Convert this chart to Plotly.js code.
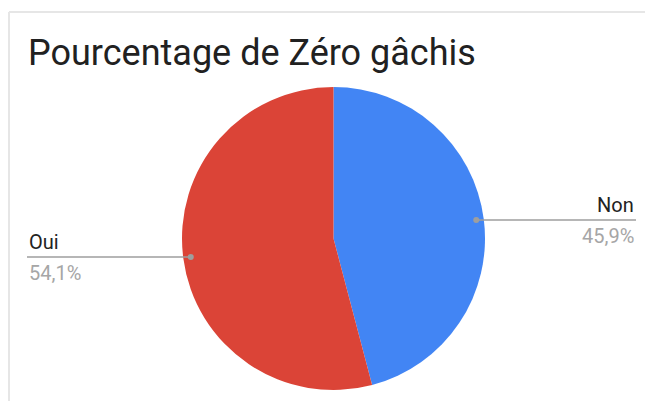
<!DOCTYPE html>
<html><head><meta charset="utf-8">
<script src="https://cdn.plot.ly/plotly-3.0.1.min.js"></script>
<style>html,body{margin:0;padding:0;background:#fff}#chart{width:645px;height:401px}</style>
</head><body><div id="chart"></div>
<script>
const labels = ['Non', 'Oui'];
const values = [45.9, 54.1];
const colors = ['#4285f4', '#db4437'];
const titleText = 'Pourcentage de Zéro gâchis';

const W = 645, H = 401;
const dom = {x: [182 / W, 485 / W], y: [11 / H, 314 / H]};
const cx = (dom.x[0] + dom.x[1]) / 2 * W;
const cy = (dom.y[0] + dom.y[1]) / 2 * H;
const r = Math.min((dom.x[1] - dom.x[0]) * W, (dom.y[1] - dom.y[0]) * H) / 2;
const total = values.reduce((a, b) => a + b, 0);

const shapes = [
  {type: 'line', xref: 'paper', yref: 'paper', x0: 9 / W, x1: 9 / W, y0: 0, y1: 389 / H, line: {color: '#e6e6e6', width: 2}},
  {type: 'line', xref: 'paper', yref: 'paper', x0: 9 / W, x1: 1, y0: 389 / H, y1: 389 / H, line: {color: '#e6e6e6', width: 2}}
];
const annotations = [];
let cum = 0;
values.forEach((v, i) => {
  const mid = (cum + v / 2) / total;
  cum += v;
  const th = 2 * Math.PI * mid;
  const px = cx + 0.95 * r * Math.sin(th);
  const py = cy + 0.95 * r * Math.cos(th);
  const right = Math.sin(th) > 0;
  const endX = right ? 636 : 27;
  shapes.push({type: 'line', xref: 'paper', yref: 'paper', x0: px / W, x1: endX / W, y0: py / H, y1: py / H, line: {color: '#9e9e9e', width: 1.5}});
  shapes.push({type: 'circle', xref: 'paper', yref: 'paper', x0: (px - 3) / W, x1: (px + 3) / W, y0: (py - 3) / H, y1: (py + 3) / H, line: {width: 0}, fillcolor: '#9e9e9e'});
  const pct = (v / total * 100).toFixed(1).replace('.', ',') + '%';
  annotations.push({xref: 'paper', yref: 'paper', x: endX / W, y: (py + 1) / H, xanchor: right ? 'right' : 'left', yanchor: 'bottom', text: labels[i], showarrow: false, font: {family: 'Roboto', size: 20, color: '#222222'}});
  annotations.push({xref: 'paper', yref: 'paper', x: endX / W, y: (py - 2) / H, xanchor: right ? 'right' : 'left', yanchor: 'top', text: pct, showarrow: false, font: {family: 'Roboto', size: 20, color: '#a6a6a6'}});
});

const data = [{
  type: 'pie', labels: labels, values: values, sort: false, direction: 'clockwise', rotation: 0,
  marker: {colors: colors, line: {width: 0}}, textinfo: 'none', hoverinfo: 'none', domain: dom
}];
const layout = {
  width: W, height: H, margin: {l: 0, r: 0, t: 0, b: 0}, showlegend: false,
  paper_bgcolor: '#ffffff',
  title: {text: titleText, xref: 'paper', yref: 'paper', x: 28 / W, xanchor: 'left', y: 1 - 52 / H, yanchor: 'middle', font: {family: 'Roboto', size: 36, color: '#212121'}},
  shapes: shapes, annotations: annotations
};
Plotly.newPlot('chart', data, layout, {staticPlot: true});
</script></body></html>
